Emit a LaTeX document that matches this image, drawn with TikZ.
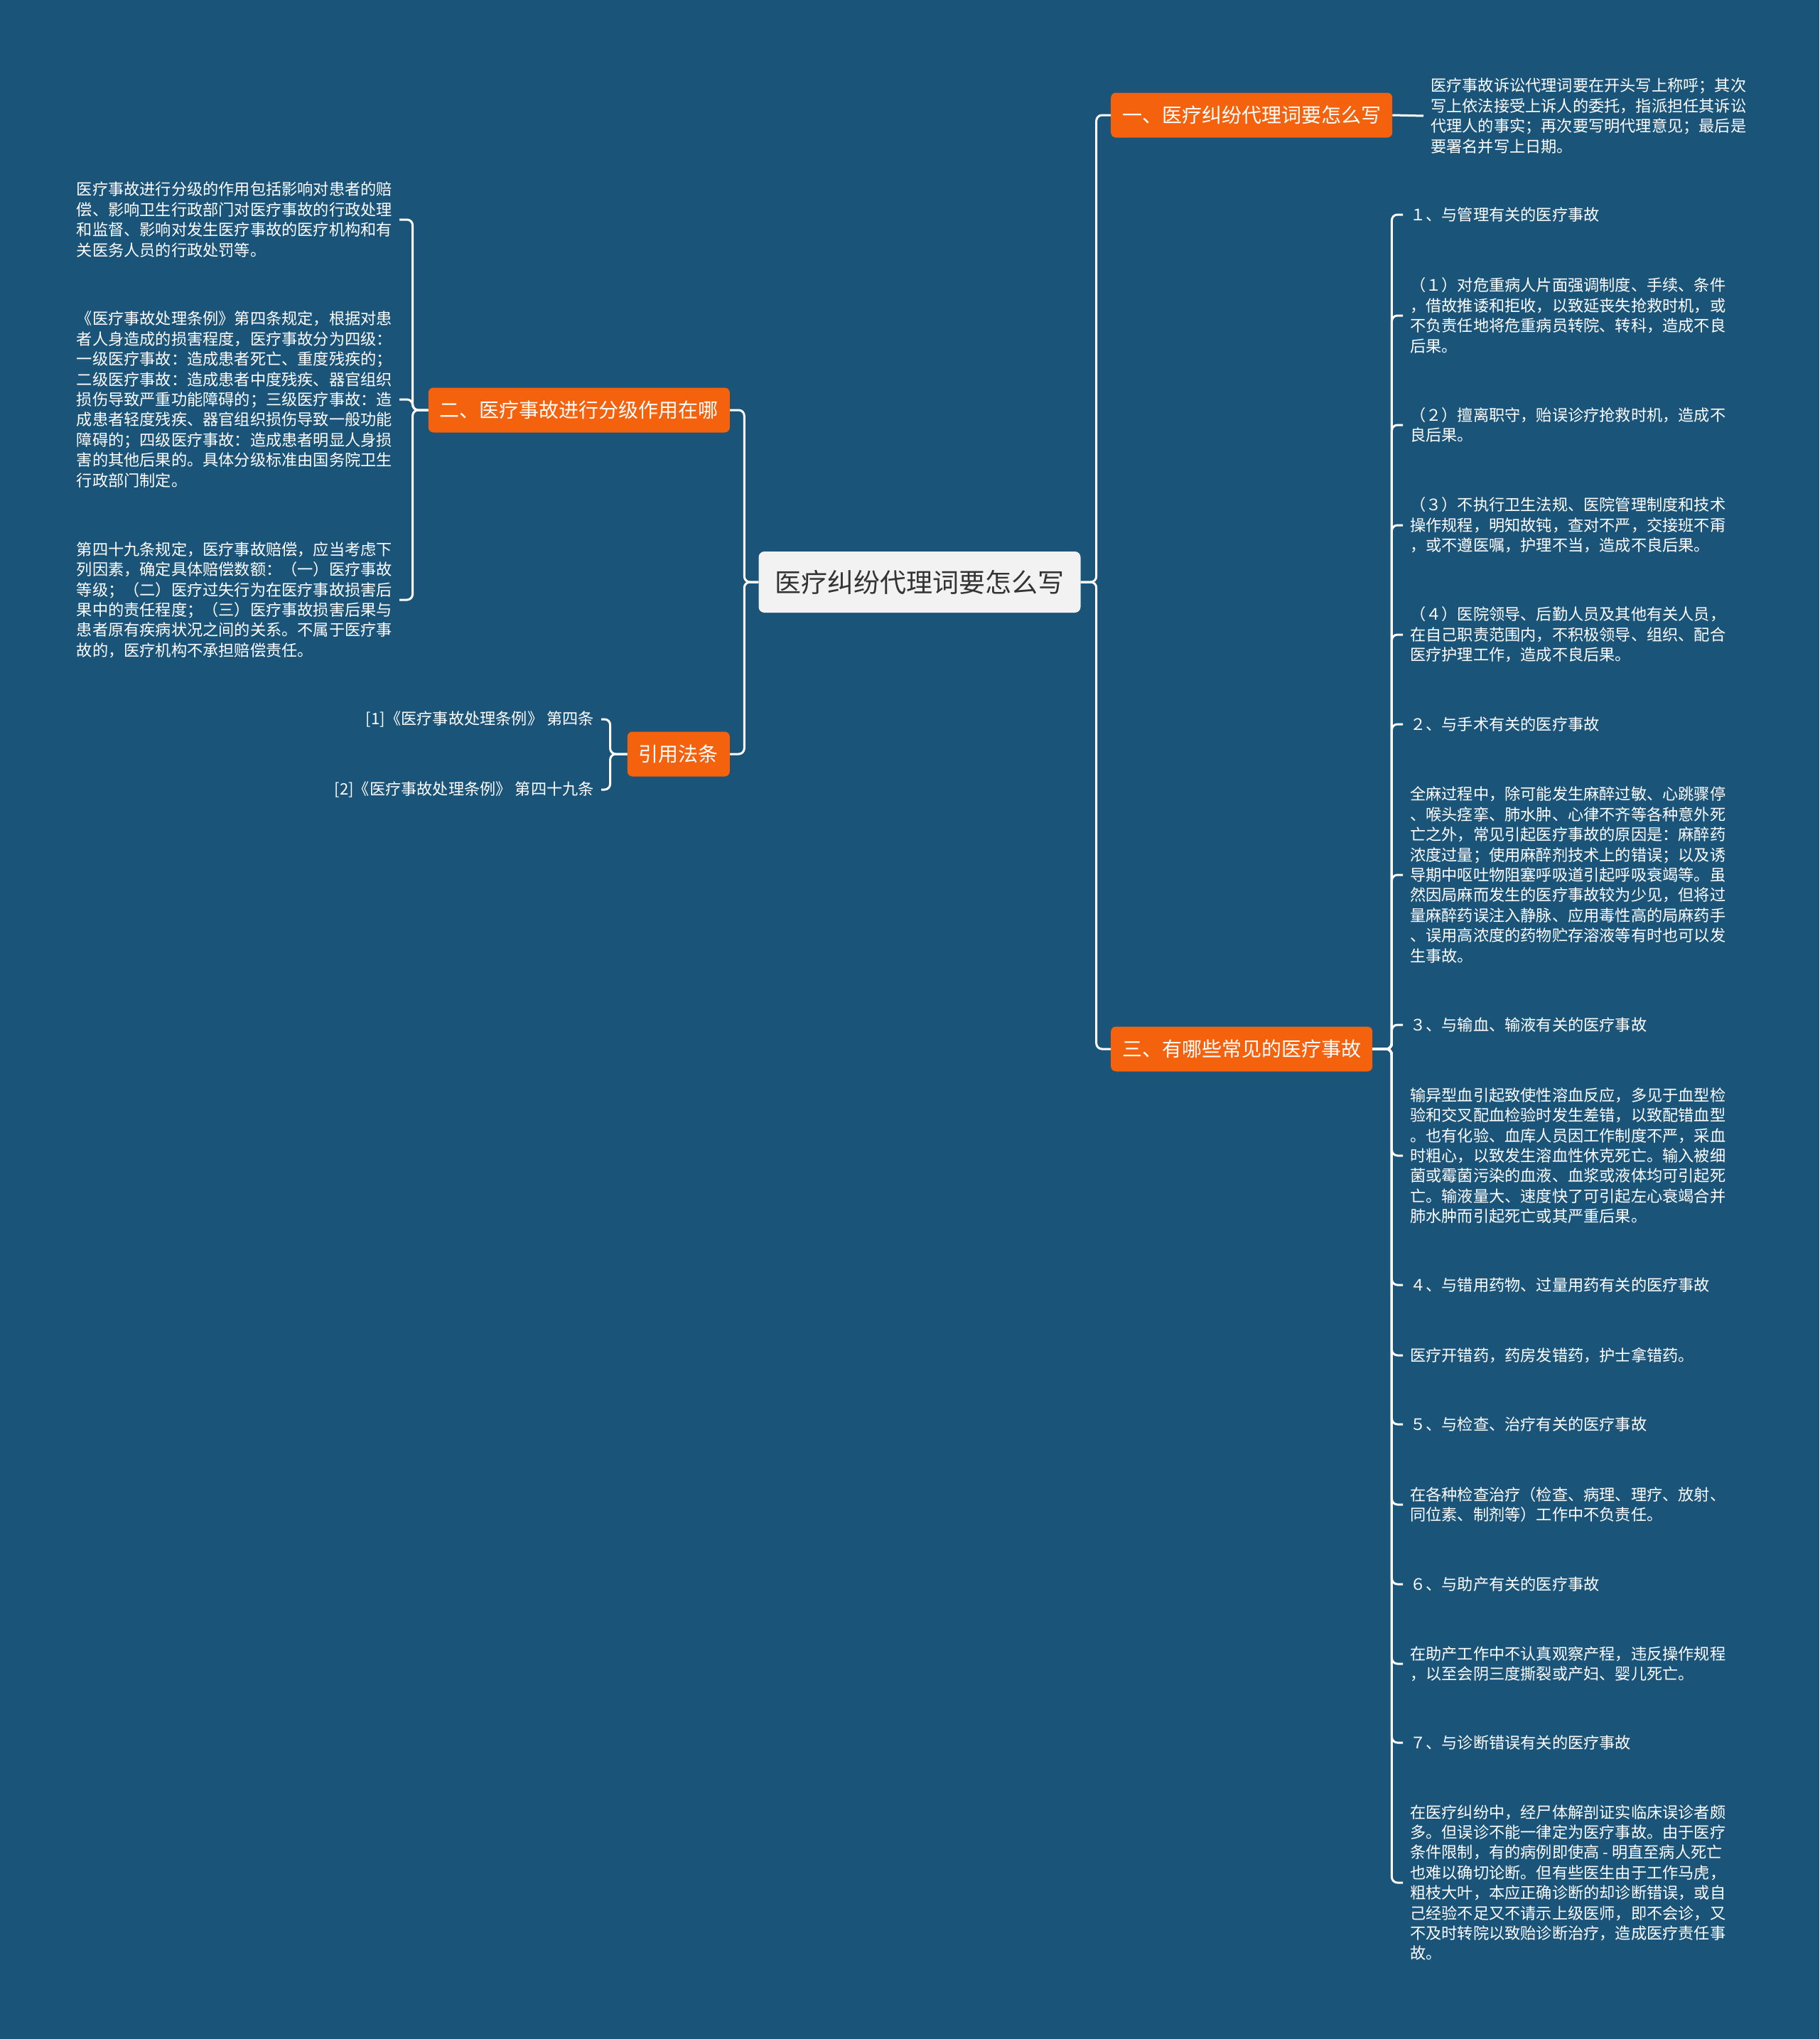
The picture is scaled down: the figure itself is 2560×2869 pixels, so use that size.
\documentclass[tikz,border=0pt]{standalone}
\usepackage{fontspec}
\newfontfamily\cjk{Noto Sans CJK SC}
\definecolor{mapBlue}{HTML}{1B5479}
\definecolor{mapOrange}{HTML}{F5620E}
\definecolor{mapGray}{HTML}{F2F2F2}
\definecolor{mapInk}{HTML}{333333}
\tikzset{
  topic/.style={fill=mapGray, text=mapInk, rounded corners=8pt, minimum height=86pt,
    inner xsep=23pt, inner ysep=0pt, font=\cjk\fontsize{37}{44}\selectfont},
  branch/.style={fill=mapOrange, text=white, rounded corners=7pt, minimum height=63pt,
    inner xsep=16pt, inner ysep=0pt, font=\cjk\fontsize{28}{34}\selectfont},
  leaf/.style={text=white, align=left, inner xsep=10pt, inner ysep=0pt,
    font=\cjk\fontsize{22.2}{28.4}\selectfont},
  link/.style={draw=white, line width=3pt, rounded corners=8pt},
}

\begin{document}
\begin{tikzpicture}[x=1pt,y=-1pt]
        \fill[mapBlue] (0,0) rectangle (2560,2869);
        \useasboundingbox (0,0) rectangle (2560,2869);
        % centre and main branches
        \node[topic] (root) at (1294,819) {医疗纠纷代理词要怎么写};
        \node[branch, anchor=west] (b1) at (1563,162) {一、医疗纠纷代理词要怎么写};
        \node[branch, anchor=east] (b2) at (1027,577) {二、医疗事故进行分级作用在哪};
        \node[branch, anchor=east] (cite) at (1027,1061) {引用法条};
        \node[branch, anchor=west] (b3) at (1563,1476) {三、有哪些常见的医疗事故};
        \draw[link] (root.east) -- ++(22,0) |- (b1.west);
        \draw[link] (root.east) -- ++(22,0) |- (b3.west);
        \draw[link] (root.west) -- ++(-20,0) |- (b2.east);
        \draw[link] (root.west) -- ++(-20,0) |- (cite.east);
        % branch one
        \node[leaf, anchor=west] (a1) at (2003,163) {医疗事故诉讼代理词要在开头写上称呼；其次\\写上依法接受上诉人的委托，指派担任其诉讼\\代理人的事实；再次要写明代理意见；最后是\\要署名并写上日期。};
        \draw[link] (b1.east) -- (a1.west);
        % branch two
        \node[leaf, anchor=east] (l1) at (562,309) {医疗事故进行分级的作用包括影响对患者的赔\\偿、影响卫生行政部门对医疗事故的行政处理\\和监督、影响对发生医疗事故的医疗机构和有\\关医务人员的行政处罚等。};
        \node[leaf, anchor=east] (l2) at (562,562) {《医疗事故处理条例》第四条规定，根据对患\\者人身造成的损害程度，医疗事故分为四级：\\一级医疗事故：造成患者死亡、重度残疾的；\\二级医疗事故：造成患者中度残疾、器官组织\\损伤导致严重功能障碍的；三级医疗事故：造\\成患者轻度残疾、器官组织损伤导致一般功能\\障碍的；四级医疗事故：造成患者明显人身损\\害的其他后果的。具体分级标准由国务院卫生\\行政部门制定。};
        \node[leaf, anchor=east] (l3) at (562,844) {第四十九条规定，医疗事故赔偿，应当考虑下\\列因素，确定具体赔偿数额：（一）医疗事故\\等级；（二）医疗过失行为在医疗事故损害后\\果中的责任程度；（三）医疗事故损害后果与\\患者原有疾病状况之间的关系。不属于医疗事\\故的，医疗机构不承担赔偿责任。};
        \foreach \n in {l1,l2,l3}
          \draw[link] (b2.west) -- ++(-22,0) |- (\n.east);
        % cited articles
        \node[leaf, anchor=east, align=right] (c1) at (846,1012) {[1]《医疗事故处理条例》 第四条};
        \node[leaf, anchor=east, align=right] (c2) at (846,1111) {[2]《医疗事故处理条例》 第四十九条};
        \foreach \n in {c1,c2}
          \draw[link] (cite.west) -- ++(-24,0) |- (\n.east);
        % branch three
        \node[leaf, anchor=west] (r1) at (1974,302) {１、与管理有关的医疗事故};
        \node[leaf, anchor=west] (r2) at (1974,444) {（１）对危重病人片面强调制度、手续、条件\\，借故推诿和拒收，以致延丧失抢救时机，或\\不负责任地将危重病员转院、转科，造成不良\\后果。};
        \node[leaf, anchor=west] (r3) at (1974,598) {（２）擅离职守，贻误诊疗抢救时机，造成不\\良后果。};
        \node[leaf, anchor=west] (r4) at (1974,739) {（３）不执行卫生法规、医院管理制度和技术\\操作规程，明知故钝，查对不严，交接班不甭\\，或不遵医嘱，护理不当，造成不良后果。};
        \node[leaf, anchor=west] (r5) at (1974,893) {（４）医院领导、后勤人员及其他有关人员，\\在自己职责范围内，不积极领导、组织、配合\\医疗护理工作，造成不良后果。};
        \node[leaf, anchor=west] (r6) at (1974,1019) {２、与手术有关的医疗事故};
        \node[leaf, anchor=west] (r7) at (1974,1231) {全麻过程中，除可能发生麻醉过敏、心跳骤停\\、喉头痉挛、肺水肿、心律不齐等各种意外死\\亡之外，常见引起医疗事故的原因是：麻醉药\\浓度过量；使用麻醉剂技术上的错误；以及诱\\导期中呕吐物阻塞呼吸道引起呼吸衰竭等。虽\\然因局麻而发生的医疗事故较为少见，但将过\\量麻醉药误注入静脉、应用毒性高的局麻药手\\、误用高浓度的药物贮存溶液等有时也可以发\\生事故。};
        \node[leaf, anchor=west] (r8) at (1974,1442) {３、与输血、输液有关的医疗事故};
        \node[leaf, anchor=west] (r9) at (1974,1626) {输异型血引起致使性溶血反应，多见于血型检\\验和交叉配血检验时发生差错，以致配错血型\\。也有化验、血库人员因工作制度不严，采血\\时粗心，以致发生溶血性休克死亡。输入被细\\菌或霉菌污染的血液、血浆或液体均可引起死\\亡。输液量大、速度快了可引起左心衰竭合并\\肺水肿而引起死亡或其严重后果。};
        \node[leaf, anchor=west] (r10) at (1974,1808) {４、与错用药物、过量用药有关的医疗事故};
        \node[leaf, anchor=west] (r11) at (1974,1907) {医疗开错药，药房发错药，护士拿错药。};
        \node[leaf, anchor=west] (r12) at (1974,2004) {５、与检查、治疗有关的医疗事故};
        \node[leaf, anchor=west] (r13) at (1974,2117) {在各种检查治疗（检查、病理、理疗、放射、\\同位素、制剂等）工作中不负责任。};
        \node[leaf, anchor=west] (r14) at (1974,2229) {６、与助产有关的医疗事故};
        \node[leaf, anchor=west] (r15) at (1974,2341) {在助产工作中不认真观察产程，违反操作规程\\，以至会阴三度撕裂或产妇、婴儿死亡。};
        \node[leaf, anchor=west] (r16) at (1974,2452) {７、与诊断错误有关的医疗事故};
        \node[leaf, anchor=west] (r17) at (1974,2649) {在医疗纠纷中，经尸体解剖证实临床误诊者颇\\多。但误诊不能一律定为医疗事故。由于医疗\\条件限制，有的病例即使高 - 明直至病人死亡\\也难以确切论断。但有些医生由于工作马虎，\\粗枝大叶，本应正确诊断的却诊断错误，或自\\己经验不足又不请示上级医师，即不会诊，又\\不及时转院以致贻诊断治疗，造成医疗责任事\\故。};
        \foreach \n in {r1,r2,r3,r4,r5,r6,r7,r8,r9,r10,r11,r12,r13,r14,r15,r16,r17}
          \draw[link] (b3.east) -- ++(27,0) |- (\n.west);
      \end{tikzpicture}
\end{document}
